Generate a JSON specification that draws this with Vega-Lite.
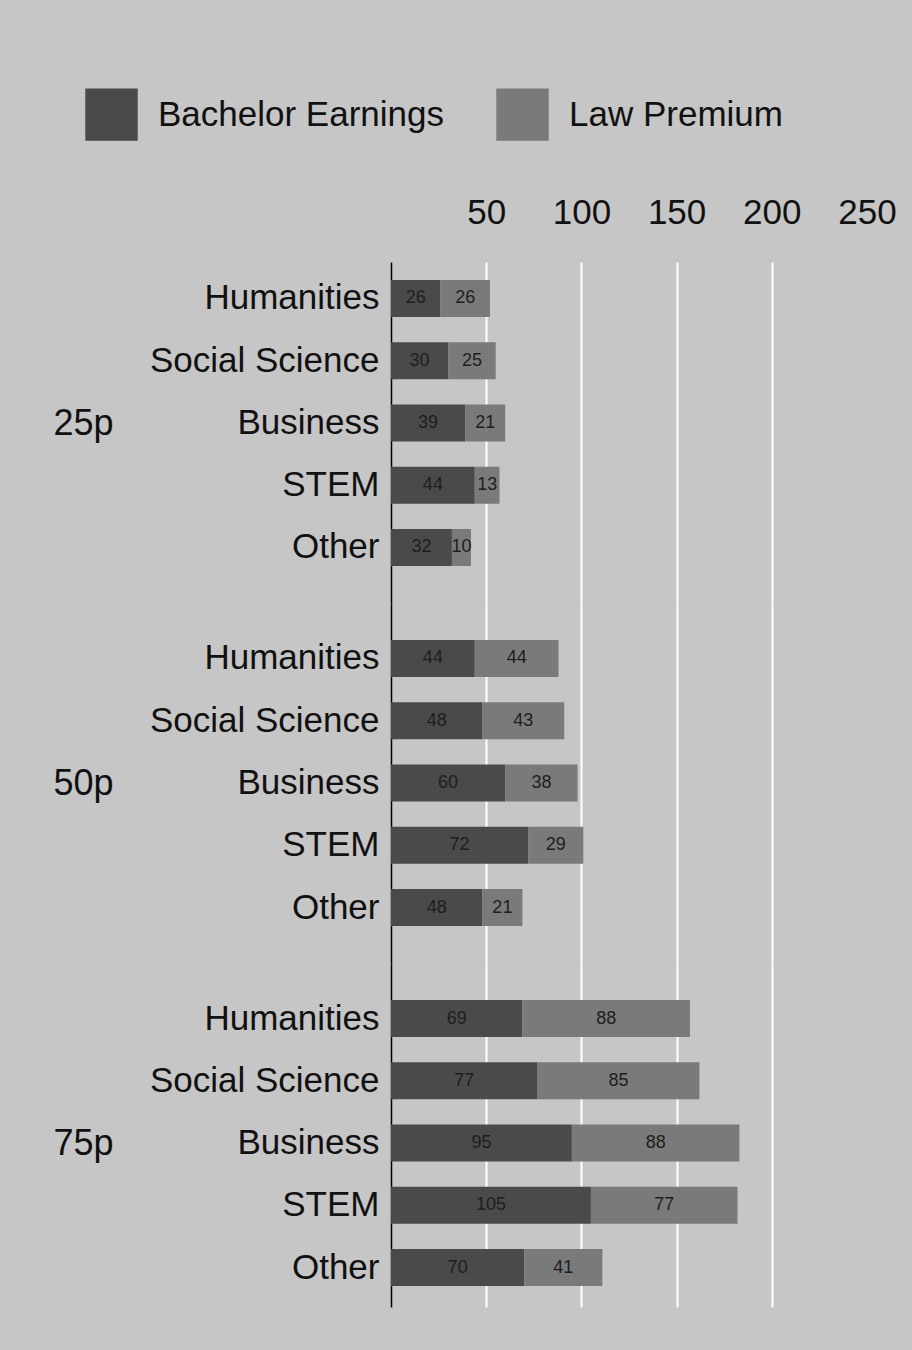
{
  "$schema": "https://vega.github.io/schema/vega-lite/v6.json",
  "background": "#c6c6c6",
  "padding": {"left": 53, "top": 88, "right": 15, "bottom": 43},
  "data": {"values": [
    {"group": "25p", "major": "Humanities", "series": "Bachelor Earnings", "value": 26},
    {"group": "25p", "major": "Humanities", "series": "Law Premium", "value": 26},
    {"group": "25p", "major": "Social Science", "series": "Bachelor Earnings", "value": 30},
    {"group": "25p", "major": "Social Science", "series": "Law Premium", "value": 25},
    {"group": "25p", "major": "Business", "series": "Bachelor Earnings", "value": 39},
    {"group": "25p", "major": "Business", "series": "Law Premium", "value": 21},
    {"group": "25p", "major": "STEM", "series": "Bachelor Earnings", "value": 44},
    {"group": "25p", "major": "STEM", "series": "Law Premium", "value": 13},
    {"group": "25p", "major": "Other", "series": "Bachelor Earnings", "value": 32},
    {"group": "25p", "major": "Other", "series": "Law Premium", "value": 10},
    {"group": "50p", "major": "Humanities", "series": "Bachelor Earnings", "value": 44},
    {"group": "50p", "major": "Humanities", "series": "Law Premium", "value": 44},
    {"group": "50p", "major": "Social Science", "series": "Bachelor Earnings", "value": 48},
    {"group": "50p", "major": "Social Science", "series": "Law Premium", "value": 43},
    {"group": "50p", "major": "Business", "series": "Bachelor Earnings", "value": 60},
    {"group": "50p", "major": "Business", "series": "Law Premium", "value": 38},
    {"group": "50p", "major": "STEM", "series": "Bachelor Earnings", "value": 72},
    {"group": "50p", "major": "STEM", "series": "Law Premium", "value": 29},
    {"group": "50p", "major": "Other", "series": "Bachelor Earnings", "value": 48},
    {"group": "50p", "major": "Other", "series": "Law Premium", "value": 21},
    {"group": "75p", "major": "Humanities", "series": "Bachelor Earnings", "value": 69},
    {"group": "75p", "major": "Humanities", "series": "Law Premium", "value": 88},
    {"group": "75p", "major": "Social Science", "series": "Bachelor Earnings", "value": 77},
    {"group": "75p", "major": "Social Science", "series": "Law Premium", "value": 85},
    {"group": "75p", "major": "Business", "series": "Bachelor Earnings", "value": 95},
    {"group": "75p", "major": "Business", "series": "Law Premium", "value": 88},
    {"group": "75p", "major": "STEM", "series": "Bachelor Earnings", "value": 105},
    {"group": "75p", "major": "STEM", "series": "Law Premium", "value": 77},
    {"group": "75p", "major": "Other", "series": "Bachelor Earnings", "value": 70},
    {"group": "75p", "major": "Other", "series": "Law Premium", "value": 41}
  ]},
  "transform": [
    {"stack": "value", "groupby": ["group", "major"], "sort": [{"field": "series", "order": "ascending"}], "as": ["v0", "v1"]},
    {"calculate": "(datum.v0 + datum.v1) / 2", "as": "mid"}
  ],
  "spacing": 0,
  "resolve": {"scale": {"x": "independent", "y": "independent"}},
  "vconcat": [
    {
      "width": 476, "height": 341,
      "transform": [{"filter": "datum.group === '25p'"}],
      "encoding": {
        "y": {"field": "major", "type": "nominal", "sort": ["Humanities", "Social Science", "Business", "STEM", "Other"],
          "scale": {"paddingInner": 0.406, "paddingOuter": 0.442, "align": 0.327},
          "axis": {"title": "25p", "titleX": -338, "titleY": 161}}
      },
      "layer": [
        {"mark": {"type": "bar"},
         "encoding": {
           "x": {"field": "v0", "type": "quantitative", "scale": {"domain": [0, 250], "nice": false},
             "axis": {"orient": "top", "values": [50, 100, 150, 200, 250], "labels": true, "labelFontSize": 35, "labelPadding": 32, "labelOverlap": false, "labelFlush": false, "labelBound": false,
               "gridColor": {"condition": {"test": "datum.value >= 250", "value": "transparent"}, "value": "#ffffff"}}},
           "x2": {"field": "v1"},
           "color": {"field": "series", "type": "nominal", "scale": {"domain": ["Bachelor Earnings", "Law Premium"], "range": ["#4a4a4a", "#7a7a7a"]},
             "legend": {"orient": "none", "legendX": -306, "legendY": -174}}
         }},
        {"mark": {"type": "text", "fontSize": 18, "color": "#1e1e1e", "align": "center", "baseline": "middle"},
         "encoding": {
           "x": {"field": "mid", "type": "quantitative"},
           "text": {"field": "value", "type": "quantitative"}
         }}
      ]
    },
    {
      "width": 476, "height": 360,
      "transform": [{"filter": "datum.group === '50p'"}],
      "encoding": {
        "y": {"field": "major", "type": "nominal", "sort": ["Humanities", "Social Science", "Business", "STEM", "Other"],
          "scale": {"paddingInner": 0.406, "paddingOuter": 0.594, "align": 0.5},
          "axis": {"title": "50p", "titleX": -338, "titleY": 180}}
      },
      "layer": [
        {"mark": {"type": "bar"},
         "encoding": {
           "x": {"field": "v0", "type": "quantitative", "scale": {"domain": [0, 250], "nice": false},
             "axis": {"orient": "top", "values": [50, 100, 150, 200], "labels": false, "gridColor": "#ffffff"}},
           "x2": {"field": "v1"},
           "color": {"field": "series", "type": "nominal", "scale": {"domain": ["Bachelor Earnings", "Law Premium"], "range": ["#4a4a4a", "#7a7a7a"]}}
         }},
        {"mark": {"type": "text", "fontSize": 18, "color": "#1e1e1e", "align": "center", "baseline": "middle"},
         "encoding": {
           "x": {"field": "mid", "type": "quantitative"},
           "text": {"field": "value", "type": "quantitative"}
         }}
      ]
    },
    {
      "width": 476, "height": 344,
      "transform": [{"filter": "datum.group === '75p'"}],
      "encoding": {
        "y": {"field": "major", "type": "nominal", "sort": ["Humanities", "Social Science", "Business", "STEM", "Other"],
          "scale": {"paddingInner": 0.406, "paddingOuter": 0.466, "align": 0.638},
          "axis": {"title": "75p", "titleX": -338, "titleY": 180}}
      },
      "layer": [
        {"mark": {"type": "bar"},
         "encoding": {
           "x": {"field": "v0", "type": "quantitative", "scale": {"domain": [0, 250], "nice": false},
             "axis": {"orient": "top", "values": [50, 100, 150, 200], "labels": false, "gridColor": "#ffffff"}},
           "x2": {"field": "v1"},
           "color": {"field": "series", "type": "nominal", "scale": {"domain": ["Bachelor Earnings", "Law Premium"], "range": ["#4a4a4a", "#7a7a7a"]}}
         }},
        {"mark": {"type": "text", "fontSize": 18, "color": "#1e1e1e", "align": "center", "baseline": "middle"},
         "encoding": {
           "x": {"field": "mid", "type": "quantitative"},
           "text": {"field": "value", "type": "quantitative"}
         }}
      ]
    }
  ],
  "config": {
    "font": "Liberation Sans",
    "view": {"stroke": null},
    "axisX": {"title": null, "ticks": false, "tickSize": 0, "domain": false, "grid": true, "gridWidth": 2, "labelColor": "#111111"},
    "axisY": {"ticks": false, "domain": true, "domainColor": "#000000", "domainWidth": 1.5, "grid": false,
      "labelFontSize": 35, "labelColor": "#111111", "labelPadding": 12, "labelLimit": 400,
      "titleAngle": 0, "titleFontSize": 36, "titleFontWeight": "normal", "titleAlign": "left", "titleBaseline": "middle", "titleColor": "#111111"},
    "legend": {"direction": "horizontal", "title": null, "symbolType": "square", "symbolSize": 2750, "symbolStrokeWidth": 0,
      "labelFontSize": 35, "labelColor": "#111111", "labelOffset": 20, "columnPadding": 52, "labelLimit": 500}
  }
}
